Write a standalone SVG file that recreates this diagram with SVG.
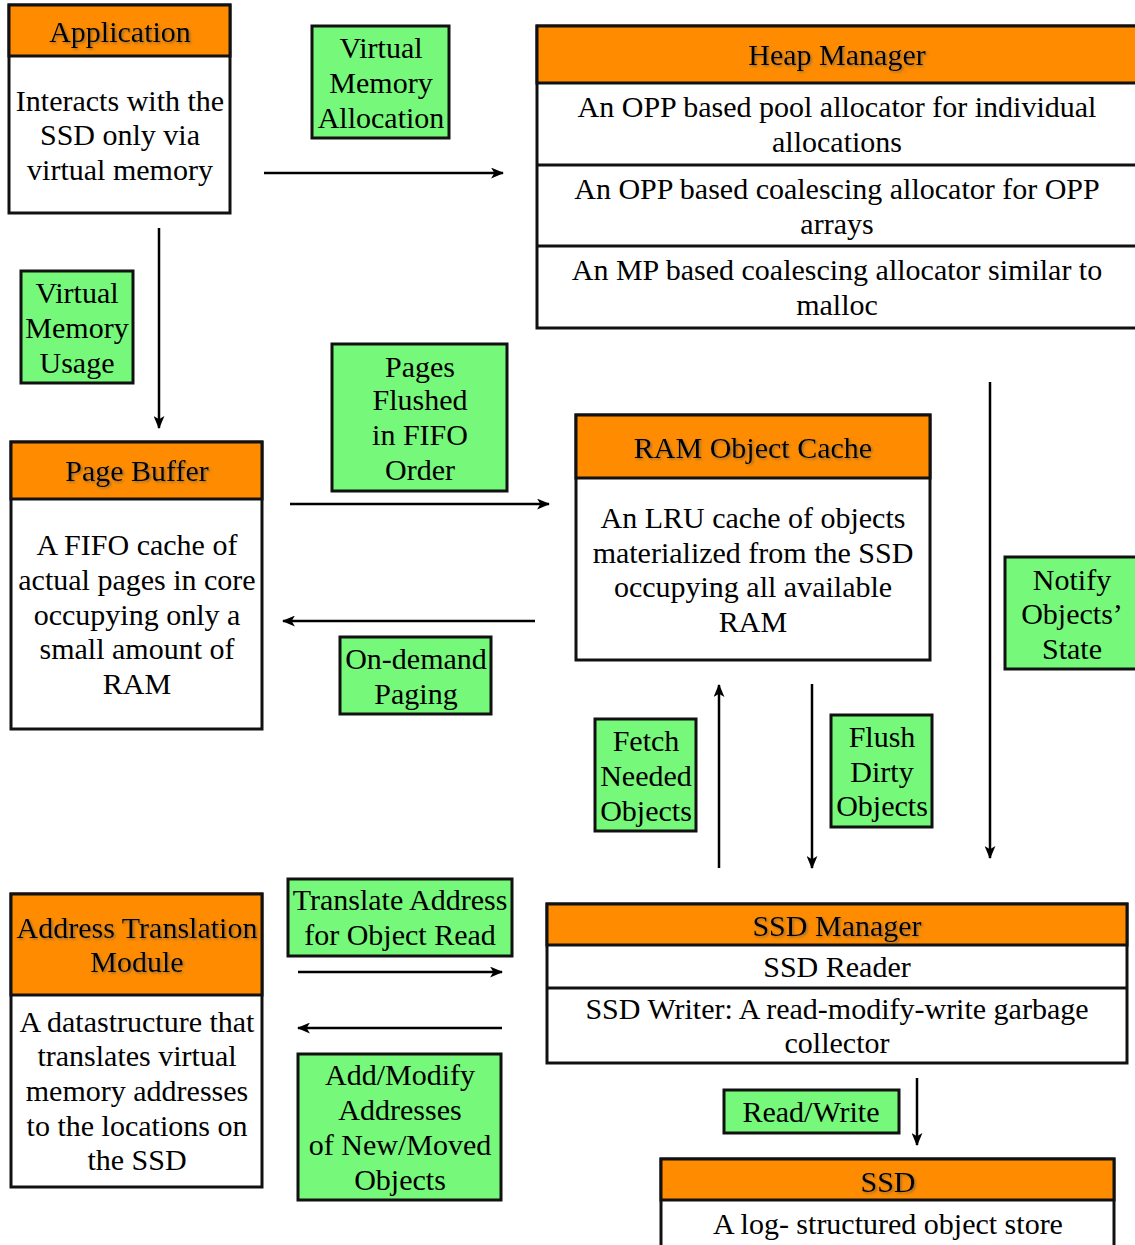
<svg xmlns="http://www.w3.org/2000/svg" width="1135" height="1245" viewBox="0 0 1135 1245" font-family="'Liberation Serif', 'DejaVu Serif', serif">
  <defs>
    <marker id="arrow" viewBox="0 0 12 10" refX="11" refY="5" markerWidth="13" markerHeight="11" markerUnits="userSpaceOnUse" orient="auto">
      <path d="M0,0 L12,5 L0,10 L3,5 Z" fill="#000"/>
    </marker>
    <filter id="shadow" x="-10%" y="-30%" width="120%" height="160%">
      <feDropShadow dx="1.5" dy="1.5" stdDeviation="1" flood-color="#555" flood-opacity="0.6"/>
    </filter>
  </defs>
  <style>
    text { font-family: 'Liberation Serif', 'DejaVu Serif', serif; font-size: 30px; fill: #000; text-anchor: middle; }
    .head { fill: #FF8C00; stroke: #111; stroke-width: 3; }
    .body { fill: #fff; stroke: #111; stroke-width: 3; }
    .tag { fill: #76F87A; stroke: #111; stroke-width: 3; }
    .title { filter: url(#shadow); }
    .conn { stroke: #000; stroke-width: 2.5; fill: none; marker-end: url(#arrow); }
  </style>

  <rect width="1135" height="1245" fill="#fff"/>

  <!-- Application -->
  <g id="application">
    <rect class="body" x="9" y="5" width="221" height="208"/>
    <rect class="head" x="9" y="5" width="221" height="51"/>
    <text class="title" x="120" y="42">Application</text>
    <text x="120" y="111">Interacts with the</text>
    <text x="120" y="145">SSD only via</text>
    <text x="120" y="180">virtual memory</text>
  </g>

  <!-- Heap Manager -->
  <g id="heap-manager">
    <rect class="body" x="537" y="26" width="602" height="302"/>
    <rect class="head" x="537" y="26" width="602" height="57"/>
    <line x1="537" y1="165" x2="1139" y2="165" stroke="#111" stroke-width="3"/>
    <line x1="537" y1="246" x2="1139" y2="246" stroke="#111" stroke-width="3"/>
    <text class="title" x="837" y="65">Heap Manager</text>
    <text x="837" y="117">An OPP based pool allocator for individual</text>
    <text x="837" y="152">allocations</text>
    <text x="837" y="199">An OPP based coalescing allocator for OPP</text>
    <text x="837" y="234">arrays</text>
    <text x="837" y="280">An MP based coalescing allocator similar to</text>
    <text x="837" y="315">malloc</text>
  </g>

  <!-- Page Buffer -->
  <g id="page-buffer">
    <rect class="body" x="11" y="442" width="251" height="287"/>
    <rect class="head" x="11" y="442" width="251" height="57"/>
    <text class="title" x="137" y="481">Page Buffer</text>
    <text x="137" y="555">A FIFO cache of</text>
    <text x="137" y="590">actual pages in core</text>
    <text x="137" y="625">occupying only a</text>
    <text x="137" y="659">small amount of</text>
    <text x="137" y="694">RAM</text>
  </g>

  <!-- RAM Object Cache -->
  <g id="ram-object-cache">
    <rect class="body" x="576" y="415" width="354" height="245"/>
    <rect class="head" x="576" y="415" width="354" height="63"/>
    <text class="title" x="753" y="458">RAM Object Cache</text>
    <text x="753" y="528">An LRU cache of objects</text>
    <text x="753" y="563">materialized from the SSD</text>
    <text x="753" y="597">occupying all available</text>
    <text x="753" y="632">RAM</text>
  </g>

  <!-- Address Translation Module -->
  <g id="address-translation">
    <rect class="body" x="11" y="894" width="251" height="293"/>
    <rect class="head" x="11" y="894" width="251" height="101"/>
    <text class="title" x="137" y="938">Address Translation</text>
    <text class="title" x="137" y="972">Module</text>
    <text x="137" y="1032">A datastructure that</text>
    <text x="137" y="1066">translates virtual</text>
    <text x="137" y="1101">memory addresses</text>
    <text x="137" y="1136">to the locations on</text>
    <text x="137" y="1170">the SSD</text>
  </g>

  <!-- SSD Manager -->
  <g id="ssd-manager">
    <rect class="body" x="547" y="904" width="580" height="159"/>
    <rect class="head" x="547" y="904" width="580" height="41"/>
    <line x1="547" y1="988" x2="1127" y2="988" stroke="#111" stroke-width="3"/>
    <text class="title" x="837" y="936">SSD Manager</text>
    <text x="837" y="977">SSD Reader</text>
    <text x="837" y="1019">SSD Writer: A read-modify-write garbage</text>
    <text x="837" y="1053">collector</text>
  </g>

  <!-- SSD -->
  <g id="ssd">
    <rect class="body" x="661" y="1159" width="453" height="100"/>
    <rect class="head" x="661" y="1159" width="453" height="41"/>
    <text class="title" x="888" y="1192">SSD</text>
    <text x="888" y="1234">A log- structured object store</text>
  </g>

  <!-- Connectors -->
  <g id="connectors">
    <line class="conn" x1="264" y1="173" x2="503" y2="173"/>
    <line class="conn" x1="159" y1="228" x2="159" y2="428"/>
    <line class="conn" x1="290" y1="504" x2="549" y2="504"/>
    <line class="conn" x1="535" y1="621" x2="283" y2="621"/>
    <line class="conn" x1="719" y1="868" x2="719" y2="685"/>
    <line class="conn" x1="812" y1="684" x2="812" y2="868"/>
    <line class="conn" x1="990" y1="382" x2="990" y2="858"/>
    <line class="conn" x1="298" y1="972" x2="502" y2="972"/>
    <line class="conn" x1="502" y1="1028" x2="298" y2="1028"/>
    <line class="conn" x1="917" y1="1078" x2="917" y2="1145"/>
  </g>

  <!-- Connector labels -->
  <g id="label-vm-allocation">
    <rect class="tag" x="312" y="26" width="137" height="112"/>
    <text x="381" y="58">Virtual</text>
    <text x="381" y="93">Memory</text>
    <text x="381" y="128">Allocation</text>
  </g>
  <g id="label-vm-usage">
    <rect class="tag" x="21" y="271" width="112" height="112"/>
    <text x="77" y="303">Virtual</text>
    <text x="77" y="338">Memory</text>
    <text x="77" y="373">Usage</text>
  </g>
  <g id="label-pages-flushed">
    <rect class="tag" x="332" y="344" width="175" height="147"/>
    <text x="420" y="377">Pages</text>
    <text x="420" y="410">Flushed</text>
    <text x="420" y="445">in FIFO</text>
    <text x="420" y="480">Order</text>
  </g>
  <g id="label-on-demand">
    <rect class="tag" x="340" y="637" width="151" height="77"/>
    <text x="416" y="669">On-demand</text>
    <text x="416" y="704">Paging</text>
  </g>
  <g id="label-fetch">
    <rect class="tag" x="595" y="719" width="101" height="112"/>
    <text x="646" y="751">Fetch</text>
    <text x="646" y="786">Needed</text>
    <text x="646" y="821">Objects</text>
  </g>
  <g id="label-flush">
    <rect class="tag" x="831" y="715" width="101" height="112"/>
    <text x="882" y="747">Flush</text>
    <text x="882" y="782">Dirty</text>
    <text x="882" y="816">Objects</text>
  </g>
  <g id="label-notify">
    <rect class="tag" x="1005" y="557" width="134" height="112"/>
    <text x="1072" y="590">Notify</text>
    <text x="1072" y="624">Objects’</text>
    <text x="1072" y="659">State</text>
  </g>
  <g id="label-translate">
    <rect class="tag" x="288" y="879" width="224" height="77"/>
    <text x="400" y="910">Translate Address</text>
    <text x="400" y="945">for Object Read</text>
  </g>
  <g id="label-add-modify">
    <rect class="tag" x="298" y="1054" width="203" height="146"/>
    <text x="400" y="1085">Add/Modify</text>
    <text x="400" y="1120">Addresses</text>
    <text x="400" y="1155">of New/Moved</text>
    <text x="400" y="1190">Objects</text>
  </g>
  <g id="label-read-write">
    <rect class="tag" x="724" y="1090" width="175" height="43"/>
    <text x="811" y="1122">Read/Write</text>
  </g>
</svg>
